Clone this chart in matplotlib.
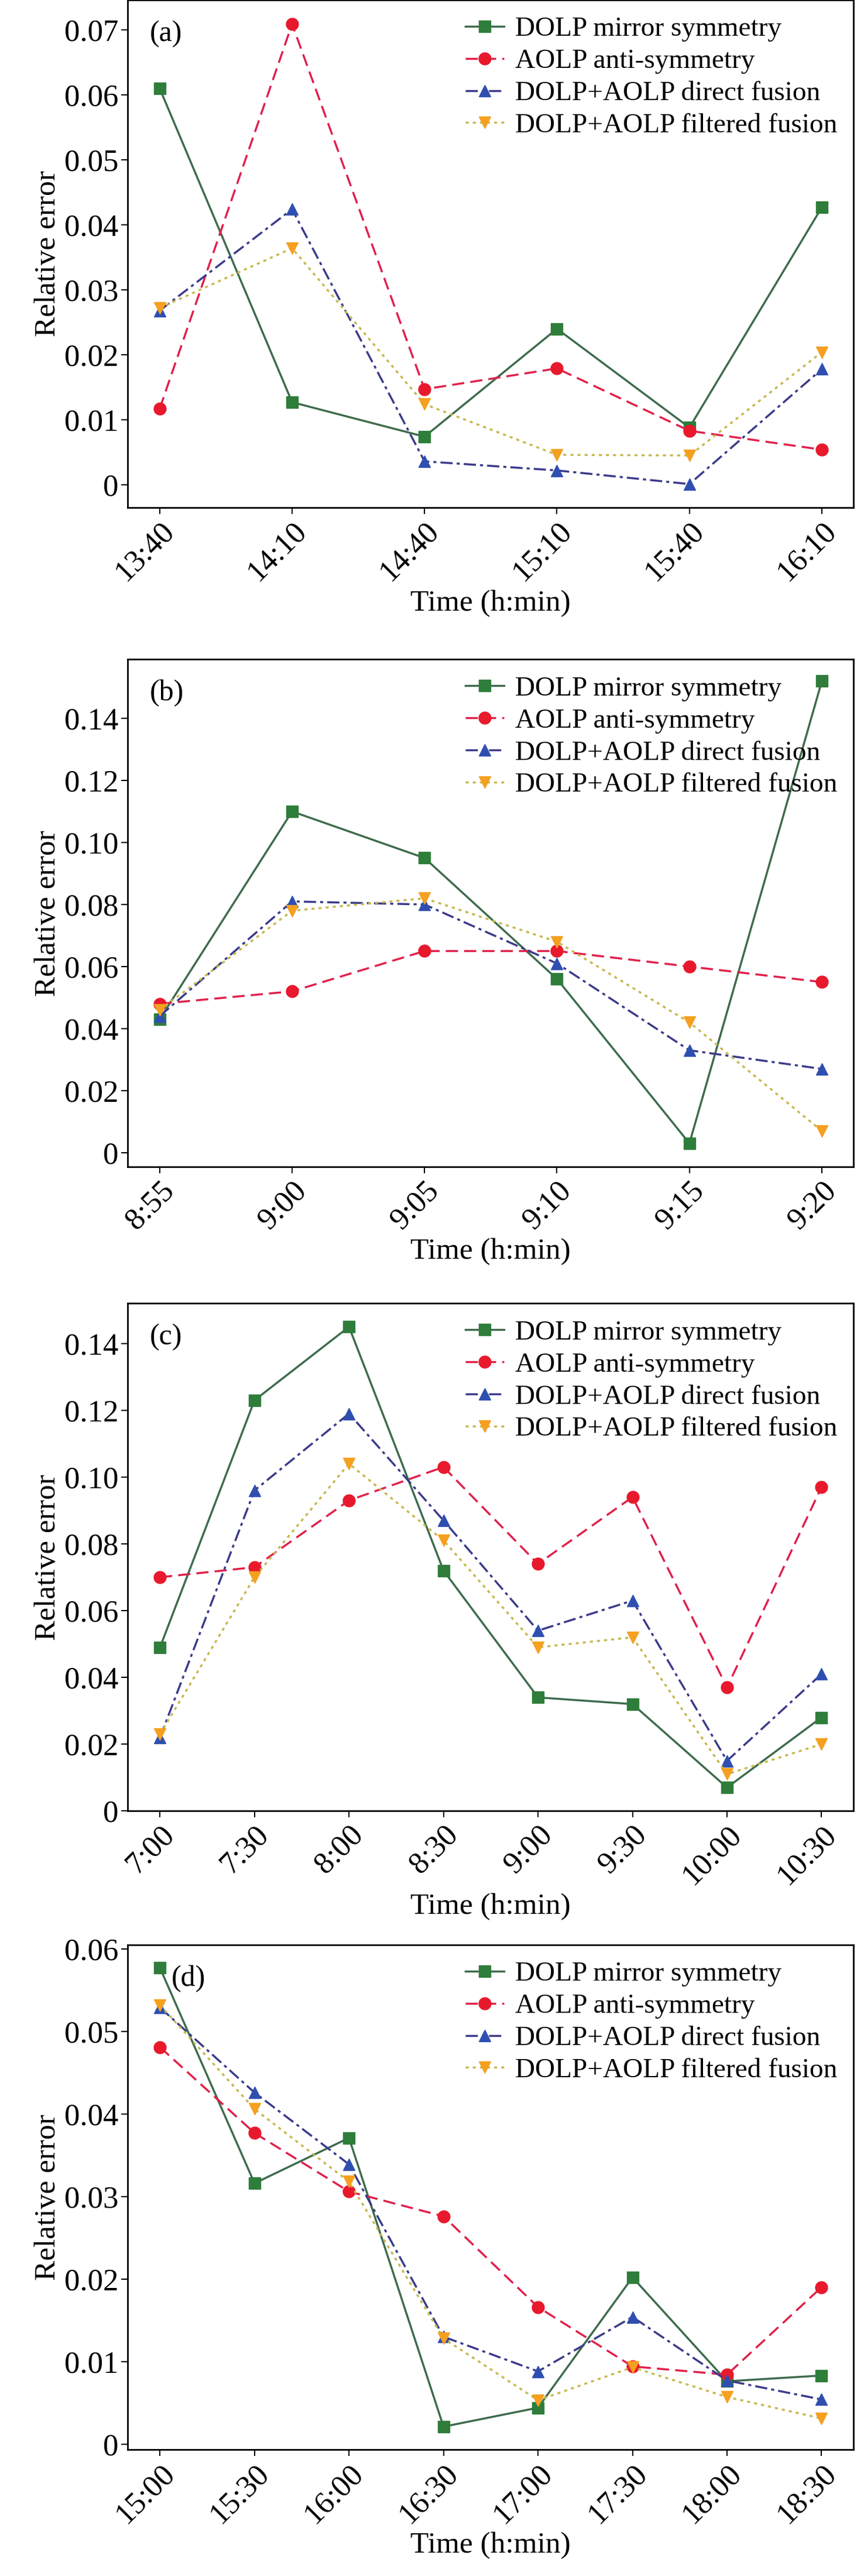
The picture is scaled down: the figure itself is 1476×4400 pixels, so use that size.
import matplotlib
matplotlib.use("Agg")
import matplotlib.pyplot as plt
from matplotlib.ticker import FuncFormatter, MultipleLocator

plt.rcParams['font.family'] = ['Liberation Serif', 'DejaVu Serif']

labels = ["DOLP mirror symmetry", "AOLP anti-symmetry",
          "DOLP+AOLP direct fusion", "DOLP+AOLP filtered fusion"]

# panel (a)
times_a = ["13:40", "14:10", "14:40", "15:10", "15:40", "16:10"]
dolp_a = [0.061, 0.0127, 0.0074, 0.024, 0.0088, 0.0427]
aolp_a = [0.0117, 0.0709, 0.0147, 0.0179, 0.0083, 0.0054]
direct_a = [0.0268, 0.0424, 0.0036, 0.0022, 0.0001, 0.0178]
filt_a = [0.0272, 0.0364, 0.0124, 0.0046, 0.0045, 0.0204]

# panel (b)
times_b = ["8:55", "9:00", "9:05", "9:10", "9:15", "9:20"]
dolp_b = [0.043, 0.110, 0.095, 0.056, 0.003, 0.152]
aolp_b = [0.048, 0.052, 0.065, 0.065, 0.060, 0.055]
direct_b = [0.044, 0.081, 0.080, 0.061, 0.033, 0.027]
filt_b = [0.046, 0.078, 0.082, 0.068, 0.042, 0.007]

# panel (c)
times_c = ["7:00", "7:30", "8:00", "8:30", "9:00", "9:30", "10:00", "10:30"]
dolp_c = [0.049, 0.123, 0.145, 0.072, 0.034, 0.032, 0.007, 0.028]
aolp_c = [0.070, 0.073, 0.093, 0.103, 0.074, 0.094, 0.037, 0.097]
direct_c = [0.022, 0.096, 0.119, 0.087, 0.054, 0.063, 0.015, 0.041]
filt_c = [0.023, 0.070, 0.104, 0.081, 0.049, 0.052, 0.011, 0.020]

# panel (d)
times_d = ["15:00", "15:30", "16:00", "16:30", "17:00", "17:30", "18:00", "18:30"]
dolp_d = [0.0577, 0.0316, 0.0371, 0.0021, 0.0044, 0.0202, 0.0076, 0.0083]
aolp_d = [0.0481, 0.0377, 0.0306, 0.0276, 0.0166, 0.0094, 0.0084, 0.0190]
direct_d = [0.0529, 0.0426, 0.0339, 0.0130, 0.0088, 0.0154, 0.0077, 0.0054]
filt_d = [0.0532, 0.0406, 0.0318, 0.0128, 0.0053, 0.0093, 0.0057, 0.0031]

panels = [
    ("(a)", times_a, [dolp_a, aolp_a, direct_a, filt_a], (-0.0035, 0.0746), 0.01, 0.24,
     [0.148, 0.803, 0.84, 0.197]),
    ("(b)", times_b, [dolp_b, aolp_b, direct_b, filt_b], (-0.0046, 0.159), 0.02, 0.24,
     [0.148, 0.547, 0.84, 0.197]),
    ("(c)", times_c, [dolp_c, aolp_c, direct_c, filt_c], (0, 0.152), 0.02, 0.34,
     [0.148, 0.297, 0.84, 0.197]),
    ("(d)", times_d, [dolp_d, aolp_d, direct_d, filt_d], (-0.0007, 0.0605), 0.01, 0.34,
     [0.148, 0.049, 0.84, 0.196]),
]

styles = [
    dict(color="#3d6b4c", mfc="#2e7d3a", mec="#2e7d3a", ls="-", marker="s"),
    dict(color="#e0204a", mfc="#e8192c", mec="#e8192c", ls=(0, (6, 3)), marker="o"),
    dict(color="#3a3a8a", mfc="#2f4fb0", mec="#2f4fb0", ls=(0, (6, 2, 1.5, 2)), marker="^"),
    dict(color="#c8b850", mfc="#f5a020", mec="#f5a020", ls=(0, (1.5, 2)), marker="v"),
]

fig = plt.figure(figsize=(14.76, 44), dpi=100)

for tag, times, series, ylim, step, margin, rect in panels:
    ax = fig.add_axes(rect)
    x = list(range(len(times)))
    for vals, lab, st in zip(series, labels, styles):
        ax.plot(x, vals, label=lab, lw=2.5, ms=15, **st)
    ax.set_xlim(-margin, len(times) - 1 + margin)
    ax.set_ylim(*ylim)
    ax.set_xticks(x)
    ax.set_xticklabels(times, rotation=45, ha="right", rotation_mode="anchor")
    ax.yaxis.set_major_locator(MultipleLocator(step))
    ax.yaxis.set_major_formatter(FuncFormatter(lambda v, p: "0" if abs(v) < 1e-9 else "%.2f" % v))
    ax.tick_params(labelsize=38, direction="out", length=8, width=1.5, top=False, right=False)
    for s in ax.spines.values():
        s.set_linewidth(2)
    ax.set_xlabel("Time (h:min)", fontsize=37)
    ax.set_ylabel("Relative error", fontsize=37)
    ax.text(0.03 if tag != "(d)" else 0.06, 0.96, tag, transform=ax.transAxes,
            fontsize=36, va="top")
    ax.legend(loc="upper right", fontsize=34, frameon=False, handlelength=1.4,
              handletextpad=0.4, labelspacing=0.25, borderaxespad=0.2)

fig.savefig("out.png", dpi=100)
